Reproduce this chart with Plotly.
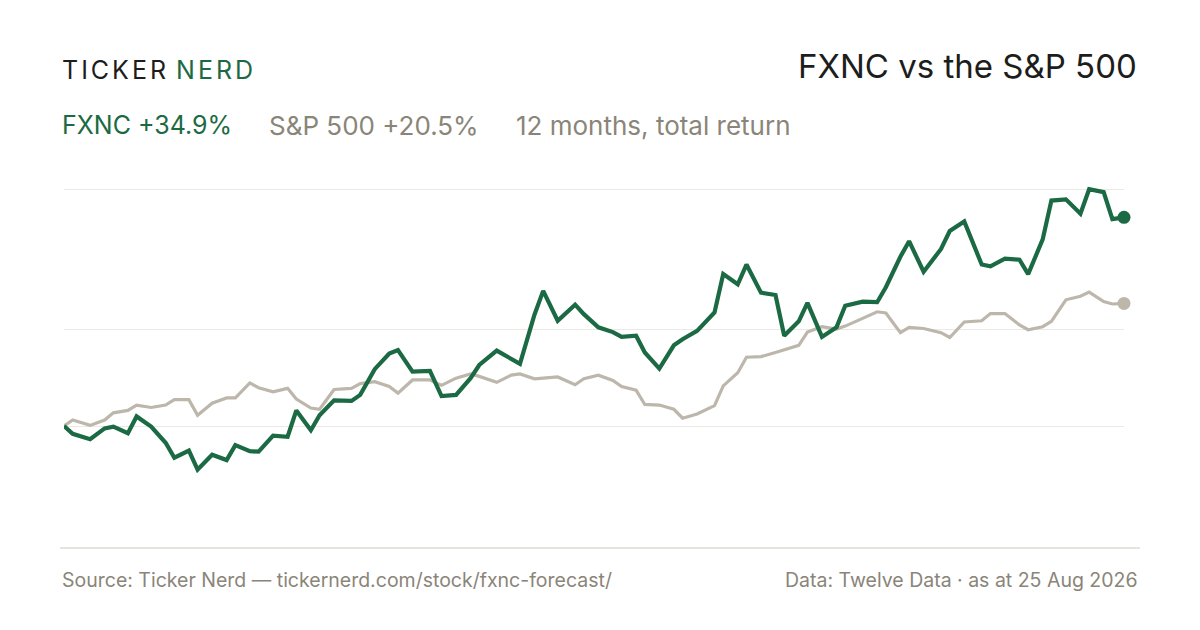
import pandas as pd
import plotly.graph_objects as go

# trading calendar for the 12-month window (NYSE holidays)
start, end = "2025-08-25", "2026-08-25"
holidays = ["2025-09-01", "2025-11-27", "2025-12-25", "2026-01-01", "2026-01-19",
            "2026-02-16", "2026-04-03", "2026-05-25", "2026-06-19", "2026-07-03"]

sessions = pd.bdate_range(start, end, freq="C", holidays=holidays)
dates = list(sessions[::3])
if dates[-1] != sessions[-1]:
    dates.append(sessions[-1])

# cumulative total return, %
fxnc = [0.0, -1.3, -2.2, -0.4, -0.1, -1.2, 1.6, -0.1, -2.8, -5.3,
        -4.1, -7.3, -4.8, -5.7, -3.2, -4.2, -4.3, -1.6, -1.8, 2.6,
        -0.7, 1.8, 4.3, 4.2, 5.2, 9.5, 12.1, 12.7, 9.1, 9.2,
        5.0, 5.2, 8.0, 10.2, 12.6, 11.3, 10.4, 18.6, 22.6, 17.6,
        20.3, 18.7, 16.5, 15.7, 14.9, 15.1, 12.3, 9.6, 13.5, 14.5,
        15.9, 19.0, 25.4, 23.7, 27.0, 22.3, 21.9, 15.1, 17.5, 20.6,
        14.9, 16.5, 20.1, 20.8, 20.7, 23.2, 28.3, 30.9, 25.8, 29.6,
        32.6, 34.2, 27.0, 26.7, 28.0, 27.8, 25.4, 31.2, 37.7, 37.9,
        35.5, 39.6, 39.1, 34.6, 34.9]

spx = [0.0, 1.0, 0.1, 1.0, 2.2, 2.6, 3.5, 3.1, 3.5, 4.4,
       4.4, 1.8, 3.8, 4.7, 4.7, 7.2, 6.4, 5.7, 6.3, 4.5,
       3.0, 2.8, 6.1, 6.3, 7.1, 7.4, 6.6, 5.5, 7.7, 7.7,
       6.8, 8.0, 8.7, 8.3, 7.3, 8.5, 8.7, 7.9, 8.0, 8.2,
       6.9, 7.9, 8.5, 7.6, 6.6, 6.0, 3.6, 3.5, 2.8, 1.3,
       2.0, 3.4, 6.7, 8.9, 11.5, 11.6, 12.3, 12.8, 13.5, 15.7,
       16.6, 16.2, 16.7, 18.0, 19.1, 18.9, 15.6, 16.5, 16.3, 15.6,
       14.8, 17.4, 17.6, 18.8, 18.8, 16.9, 16.1, 16.6, 17.5, 21.1,
       21.7, 22.4, 20.8, 20.4, 20.5]

grid_levels = [0, 16.1, 39.6]

GREEN = "#1b6a43"
SAND = "#bdb6ab"
MUTED = "#8a8579"
INK = "#1d1d1b"
FONT = "Inter"

# the page body adds an 8px margin, so the figure is 8px smaller each way
W, H, OFF = 1192, 622, 8
# plot area in target pixels: x 64..1124, y 170..548
L, R, T, B = 64, 1124, 170, 548


def px(x):
    return (x - L) / (R - L)


def py(y):
    return (B - y) / (B - T)


fig = go.Figure()

fig.add_trace(go.Scatter(x=dates, y=spx, mode="lines",
                         line=dict(color=SAND, width=3.2), cliponaxis=False,
                         hoverinfo="skip"))
fig.add_trace(go.Scatter(x=dates, y=fxnc, mode="lines",
                         line=dict(color=GREEN, width=4.2), cliponaxis=False,
                         hoverinfo="skip"))
fig.add_trace(go.Scatter(x=[dates[-1]], y=[spx[-1]], mode="markers",
                         marker=dict(color=SAND, size=13), cliponaxis=False,
                         hoverinfo="skip"))
fig.add_trace(go.Scatter(x=[dates[-1]], y=[fxnc[-1]], mode="markers",
                         marker=dict(color=GREEN, size=13), cliponaxis=False,
                         hoverinfo="skip"))

ann = []
ann.append(dict(x=px(60), y=py(70), xanchor="left", yanchor="middle",
                text='<span style="letter-spacing:3px">TICKER</span> '
                     '<span style="letter-spacing:3px;fill:%s">NERD</span>' % GREEN,
                font=dict(family=FONT, size=25, color=INK)))
ann.append(dict(x=px(1139), y=py(66), xanchor="right", yanchor="middle",
                text="FXNC vs the S&amp;P 500",
                font=dict(family=FONT, size=33, color=INK)))
ann.append(dict(x=px(60), y=py(125), xanchor="left", yanchor="middle",
                text="FXNC +34.9%", font=dict(family=FONT, size=25, color=GREEN)))
ann.append(dict(x=px(267), y=py(125), xanchor="left", yanchor="middle",
                text="S&amp;P 500 +20.5%", font=dict(family=FONT, size=26, color=MUTED)))
ann.append(dict(x=px(514), y=py(125), xanchor="left", yanchor="middle",
                text="12 months, total return", font=dict(family=FONT, size=26, color=MUTED)))
ann.append(dict(x=px(60), y=py(580), xanchor="left", yanchor="middle",
                text="Source: Ticker Nerd — tickernerd.com/stock/fxnc-forecast/",
                font=dict(family=FONT, size=19.5, color=MUTED)))
ann.append(dict(x=px(1140), y=py(580), xanchor="right", yanchor="middle",
                text="Data: Twelve Data · as at 25 Aug 2026",
                font=dict(family=FONT, size=19.5, color=MUTED)))
for a in ann:
    a.update(xref="paper", yref="paper", showarrow=False)

fig.update_layout(
    width=W, height=H,
    margin=dict(l=L - OFF, r=W - (R - OFF), t=T - OFF, b=H - (B - OFF), pad=0),
    paper_bgcolor="white", plot_bgcolor="white",
    showlegend=False,
    annotations=ann,
    shapes=[dict(type="line", xref="paper", yref="paper",
                 x0=px(60), x1=px(1140), y0=0, y1=0,
                 line=dict(color="#dfdbd3", width=1.5))],
    xaxis=dict(range=[dates[0], dates[-1]], showgrid=False, zeroline=False,
               showticklabels=False, ticks="", showline=False),
    yaxis=dict(range=[-(B - 426) / 5.98, (426 - T) / 5.98], tickvals=grid_levels,
               showticklabels=False, ticks="", gridcolor="#ece9e4", gridwidth=1,
               zeroline=False, showline=False),
)

fig.write_html("out.html")
